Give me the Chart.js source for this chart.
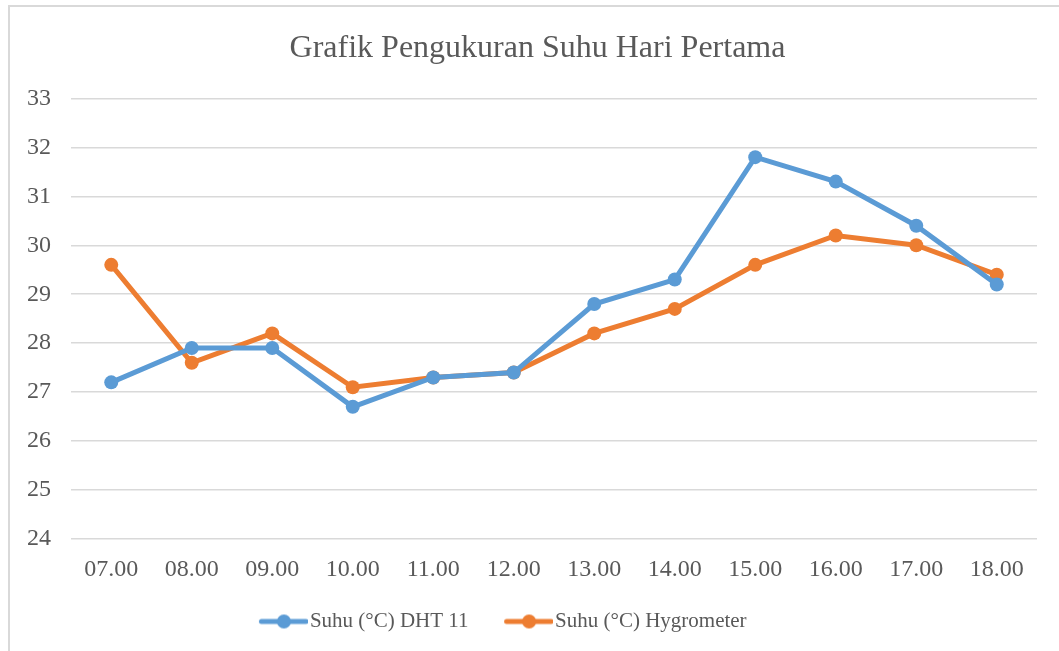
<!DOCTYPE html>
<html>
<head>
<meta charset="utf-8">
<script src="https://cdn.jsdelivr.net/npm/chart.js@4"></script>
<style>
    html, body { margin: 0; padding: 0; background: #fff; overflow: hidden; }
    .wrap { position: relative; width: 1059px; height: 651px; }
    .frame {
        position: absolute; left: 8px; top: 5px; width: 1100px; height: 700px;
        border-left: 2px solid #d9d9d9; border-top: 2px solid #d9d9d9;
    }
    canvas { position: absolute; left: 0; top: 0; }
</style>
</head>
<body>
<div class="wrap">
    <div class="frame"></div>
    <canvas id="suhuChart" width="1059" height="651"></canvas>
</div>
<script>
// Pengukuran suhu hari pertama
const jam = ["07.00", "08.00", "09.00", "10.00", "11.00", "12.00", "13.00", "14.00", "15.00", "16.00", "17.00", "18.00"]
const suhuDht11 = [27.2, 27.9, 27.9, 26.7, 27.3, 27.4, 28.8, 29.3, 31.8, 31.3, 30.4, 29.2]
const suhuHygrometer = [29.6, 27.6, 28.2, 27.1, 27.3, 27.4, 28.2, 28.7, 29.6, 30.2, 30.0, 29.4]
const yMin = 24
const yMax = 33

const BLUE = "#5b9bd5"
const ORANGE = "#ed7d31"
const TEXT = "#595959"
const SERIF = "'Liberation Serif', 'Times New Roman', serif"

// legend marker: short line with a dot in the middle,
// drawn off-centre so the item keeps some room on its left
function legendMarker(color) {
    const c = document.createElement("canvas")
    c.width = 80
    c.height = 16
    const g = c.getContext("2d")
    g.strokeStyle = color
    g.lineWidth = 5
    g.lineCap = "round"
    g.beginPath()
    g.moveTo(33.5, 8)
    g.lineTo(78, 8)
    g.stroke()
    g.fillStyle = color
    g.beginPath()
    g.arc(56, 8, 7, 0, Math.PI * 2)
    g.fill()
    return c
}

const markers = [legendMarker(BLUE), legendMarker(ORANGE)]

// legend sits a bit left of centre
const legendShift = {
    id: "legendShift",
    afterLayout(chart) {
        const lg = chart.legend
        if (!lg) return
        lg.left -= 46
        lg.right -= 46
    },
}

new Chart(document.getElementById("suhuChart").getContext("2d"), {
    type: "line",
    data: {
        labels: jam,
        datasets: [
            {
                label: "Suhu (°C) DHT 11",
                data: suhuDht11,
                borderColor: BLUE,
                backgroundColor: BLUE,
                borderWidth: 5,
                pointRadius: 7,
                pointBorderWidth: 0,
                tension: 0,
            },
            {
                label: "Suhu (°C) Hygrometer",
                data: suhuHygrometer,
                borderColor: ORANGE,
                backgroundColor: ORANGE,
                borderWidth: 5,
                pointRadius: 7,
                pointBorderWidth: 0,
                tension: 0,
            },
        ],
    },
    options: {
        responsive: false,
        animation: false,
        layout: {
            padding: { left: 24, right: 8, top: 6, bottom: 9 },
        },
        plugins: {
            title: {
                display: true,
                text: "Grafik Pengukuran Suhu Hari Pertama",
                color: TEXT,
                font: { family: SERIF, size: 32, weight: "normal" },
                padding: { top: 23, bottom: 31 },
            },
            legend: {
                position: "bottom",
                labels: {
                    color: TEXT,
                    font: { family: SERIF, size: 21 },
                    usePointStyle: true,
                    pointStyleWidth: 63,
                    padding: 13,
                    generateLabels: (chart) => chart.data.datasets.map((ds, i) => ({
                        text: ds.label,
                        fillStyle: ds.borderColor,
                        strokeStyle: ds.borderColor,
                        fontColor: TEXT,
                        pointStyle: markers[i],
                        lineWidth: 0,
                        hidden: false,
                        datasetIndex: i,
                    })),
                },
            },
            tooltip: { enabled: false },
        },
        scales: {
            x: {
                offset: true,
                grid: { display: false, drawTicks: false },
                border: { display: false },
                ticks: {
                    color: TEXT,
                    font: { family: SERIF, size: 24 },
                    padding: 16,
                    maxRotation: 0,
                },
                afterFit: (scale) => { scale.height = 59 },
            },
            y: {
                min: yMin,
                max: yMax,
                grid: { color: "#d9d9d9", lineWidth: 1.5, drawTicks: false },
                border: { display: false },
                ticks: {
                    stepSize: 1,
                    color: TEXT,
                    font: { family: SERIF, size: 24 },
                    padding: 20,
                },
                afterFit: (scale) => { scale.width = 47 },
            },
            // empty strip on the right edge of the plot
            yRight: {
                position: "right",
                grid: { display: false, drawTicks: false },
                border: { display: false },
                ticks: { display: false },
                afterFit: (scale) => { scale.width = 14 },
            },
        },
    },
    plugins: [legendShift],
})
</script>
</body>
</html>
